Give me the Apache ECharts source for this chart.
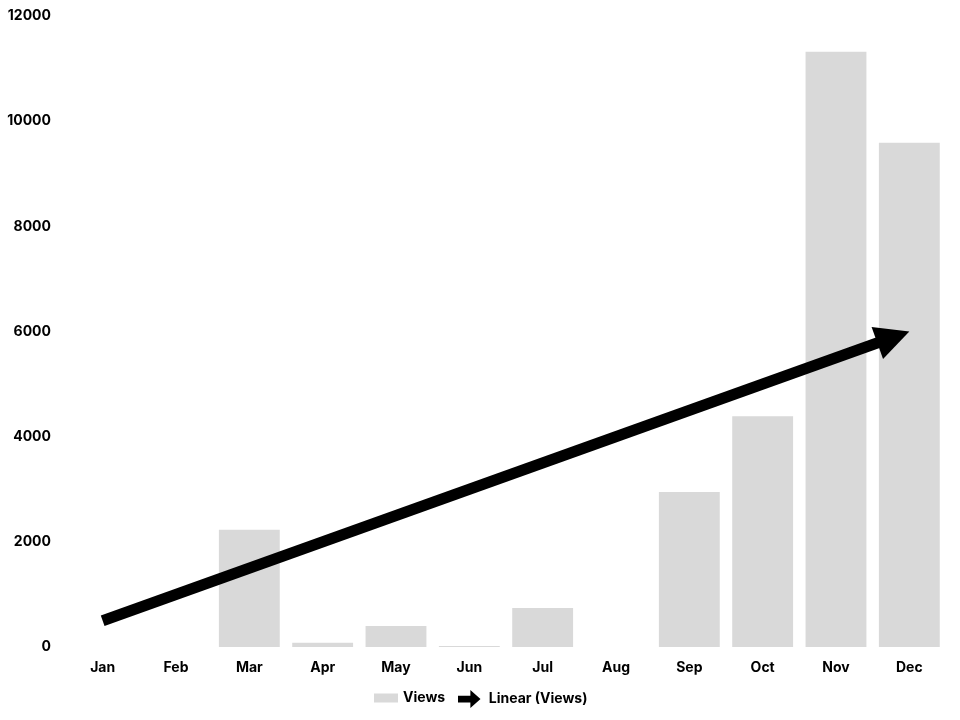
<!DOCTYPE html>
<html><head><meta charset="utf-8">
<script src="https://cdn.jsdelivr.net/npm/echarts@6/dist/echarts.min.js"></script>
<style>html,body{margin:0;padding:0;background:#fff}#c{width:960px;height:720px}</style>
</head><body><div id="c"></div>
<script>
const months = ['Jan','Feb','Mar','Apr','May','Jun','Jul','Aug','Sep','Oct','Nov','Dec'];
const views = [0, 0, 2230, 80, 400, 20, 740, 0, 2950, 4390, 11320, 9590];
const trendStart = ['Jan', 500];
const trendEnd = ['Dec', 6000];
const yTicks = [0, 2000, 4000, 6000, 8000, 10000, 12000];

const FONT = 'Inter';
const trendData = [[months.indexOf(trendStart[0]), trendStart[1], months.indexOf(trendEnd[0]), trendEnd[1]]];

function renderTrend(params, api) {
  const p0 = api.coord([api.value(0), api.value(1)]);
  const p1 = api.coord([api.value(2), api.value(3)]);
  const dx = p1[0] - p0[0], dy = p1[1] - p0[1];
  const len = Math.sqrt(dx * dx + dy * dy);
  const ux = dx / len, uy = dy / len;
  const nx = -uy, ny = ux;
  const headLen = 34, headHalf = 17;
  const bx = p1[0] - ux * headLen, by = p1[1] - uy * headLen;
  const lineEnd = [p1[0] - ux * (headLen - 2), p1[1] - uy * (headLen - 2)];
  return {
    type: 'group',
    children: [
      { type: 'line', shape: { x1: p0[0], y1: p0[1], x2: lineEnd[0], y2: lineEnd[1] },
        style: { stroke: '#000', lineWidth: 11, fill: null } },
      { type: 'polygon', shape: { points: [p1, [bx + nx * headHalf, by + ny * headHalf], [bx - nx * headHalf, by - ny * headHalf]] },
        style: { fill: '#000' } }
    ]
  };
}

const chart = echarts.init(document.getElementById('c'));
chart.setOption({
  animation: false,
  textStyle: { fontFamily: FONT },
  grid: { left: 66, right: 14, top: 16, bottom: 73 },
  legend: [
    { data: [{ name: 'Views', icon: 'rect' }], left: 374, top: 691, padding: 0, itemWidth: 24, itemHeight: 9, itemGap: 4,
      textStyle: { fontFamily: FONT, fontWeight: 'bold', fontSize: 14, color: '#000' } },
    { data: [{ name: 'Linear (Views)', icon: 'path://M0,5 L11,5 L11,0 L20,8 L11,16 L11,11 L0,11 Z' }], left: 458, top: 690, padding: 0, itemWidth: 29, itemHeight: 18, itemGap: 4,
      textStyle: { fontFamily: FONT, fontWeight: 'bold', fontSize: 14, color: '#000' } }
  ],
  xAxis: {
    type: 'category', data: months,
    axisLine: { show: false }, axisTick: { show: false },
    axisLabel: { color: '#000', fontWeight: 'bold', fontSize: 14, margin: 14, fontFamily: FONT }
  },
  yAxis: {
    type: 'value', min: 0, max: 12000, interval: 2000,
    splitLine: { show: false }, axisLine: { show: false }, axisTick: { show: false },
    axisLabel: { color: '#000', fontWeight: 'bold', fontSize: 14, margin: 15, fontFamily: FONT,
      customValues: yTicks, formatter: v => String(v) }
  },
  series: [
    { name: 'Views', type: 'bar', data: views, barCategoryGap: '17%',
      itemStyle: { color: '#d9d9d9' }, emphasis: { disabled: true } },
    { name: 'Linear (Views)', type: 'custom', data: trendData, renderItem: renderTrend,
      encode: { x: [0, 2], y: [1, 3] }, itemStyle: { color: '#000' }, silent: true, z: 3 }
  ]
});
</script></body></html>
